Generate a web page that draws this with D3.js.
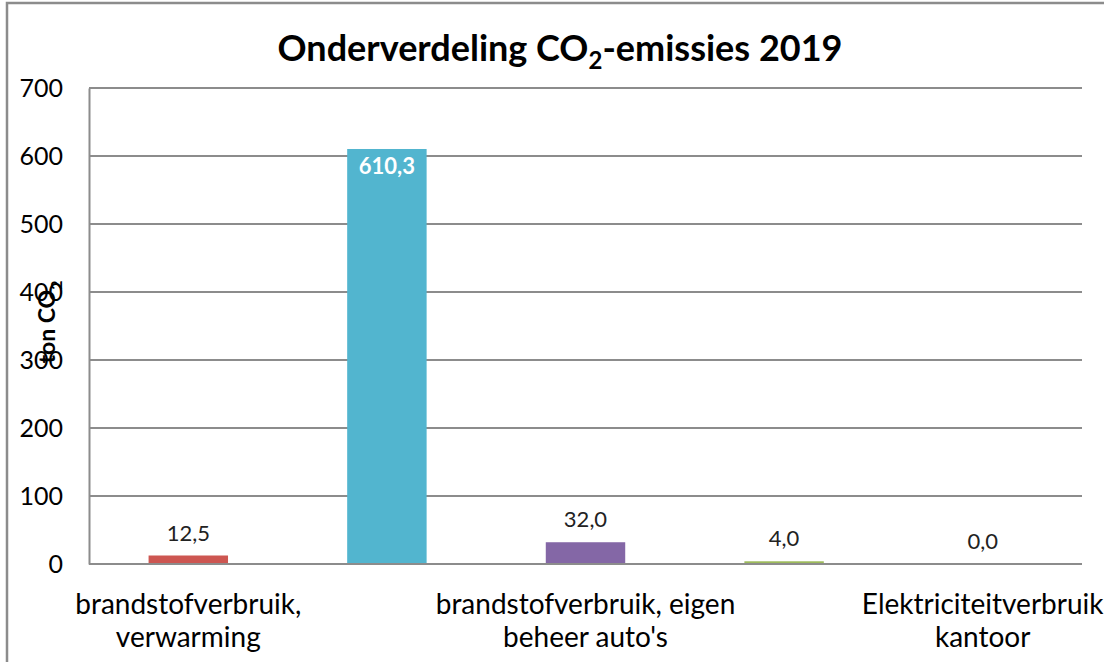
<!DOCTYPE html>
<html>
<head>
<meta charset="utf-8">
<script src="https://cdn.jsdelivr.net/npm/d3@7"></script>
<style>
  body { margin: 0; background: #fff; }
  .canvas svg { display: block; font-family: Lato, "Open Sans", sans-serif; }
</style>
</head>
<body>
<div class="canvas"></div>
<script>
// data
const categories = ["brandstofverbruik, verwarming", "zakelijk verkeer", "brandstofverbruik, eigen beheer auto's", "vliegreizen", "Elektriciteitverbruik kantoor"];
// only every other category label is shown (Excel skipped the rest)
const shownLabels = [["brandstofverbruik,", "verwarming"], [], ["brandstofverbruik, eigen", "beheer auto's"], [], ["Elektriciteitverbruik", "kantoor"]];
const values = [12.5, 610.3, 32.0, 4.0, 0.0];
const colors = ["#cd5651", "#52b5cf", "#8467a6", "#9dbb5c", "#f79646"];
const yTicks = [0, 100, 200, 300, 400, 500, 600, 700];

const W = 1104, H = 662;
const margin = {top: 88, right: 22, bottom: 98, left: 89},
    width = W - margin.left - margin.right,
    height = H - margin.top - margin.bottom;

const root = d3.select(".canvas")
  .append("svg")
    .attr("width", W)
    .attr("height", H);

// outer frame (top + left edge visible)
root.append("path")
    .attr("d", `M7,${H} L7,3 L${W},3`)
    .attr("fill", "none")
    .attr("stroke", "#8c8c8c")
    .attr("stroke-width", 2.5);

// title with subscript
const title = root.append("text")
    .attr("x", 560)
    .attr("y", 61)
    .attr("text-anchor", "middle")
    .style("font-size", "36px")
    .style("font-weight", "bold")
    .attr("fill", "#000");
title.append("tspan").text("Onderverdeling CO");
title.append("tspan").attr("dy", 8).style("font-size", "24px").text("2");
title.append("tspan").attr("dy", -8).text("-emissies 2019");

const svg = root.append("g")
    .attr("transform", `translate(${margin.left},${margin.top})`);

const x = d3.scaleBand()
    .domain(categories)
    .range([0, width])
    .paddingInner(0.6)
    .paddingOuter(0.3);

const y = d3.scaleLinear()
    .domain([0, 700])
    .range([height, 0]);

// gridlines
svg.append("g")
  .selectAll("line")
  .data(yTicks.filter(d => d > 0))
  .join("line")
    .attr("x1", 0)
    .attr("x2", width)
    .attr("y1", d => y(d))
    .attr("y2", d => y(d))
    .attr("stroke", "#8c8c8c")
    .attr("stroke-width", 2);

// y axis
const yAxis = svg.append("g")
    .call(d3.axisLeft(y).tickValues(yTicks).tickSize(0).tickPadding(26).tickFormat(d3.format("d")));
yAxis.select(".domain").attr("stroke", "#8c8c8c").attr("stroke-width", 2);
yAxis.selectAll("text")
    .style("font-size", "25px")
    .style("font-family", "Lato, 'Open Sans', sans-serif")
    .attr("fill", "#000");

// bars
svg.selectAll("rect.bar")
  .data(values)
  .join("rect")
    .attr("class", "bar")
    .attr("x", (d, i) => x(categories[i]))
    .attr("y", d => y(d))
    .attr("width", x.bandwidth())
    .attr("height", d => height - y(d))
    .style("fill", (d, i) => colors[i]);

// x axis line
svg.append("line")
    .attr("x1", 0).attr("x2", width)
    .attr("y1", height).attr("y2", height)
    .attr("stroke", "#8c8c8c")
    .attr("stroke-width", 2);

// category labels
const xl = svg.append("g")
  .selectAll("text")
  .data(categories)
  .join("text")
    .attr("x", d => x(d) + x.bandwidth() / 2)
    .attr("y", height + 50)
    .attr("text-anchor", "middle")
    .style("font-size", "28px")
    .attr("fill", "#000");
xl.each(function(d, i) {
  const t = d3.select(this);
  shownLabels[i].forEach((line, j) => {
    t.append("tspan")
      .attr("x", x(d) + x.bandwidth() / 2)
      .attr("dy", j === 0 ? 0 : 33)
      .text(line);
  });
});

// value labels
const fmt = v => d3.format(".1f")(v).replace(".", ",");
svg.selectAll("text.val")
  .data(values)
  .join("text")
    .attr("class", "val")
    .attr("x", (d, i) => x(categories[i]) + x.bandwidth() / 2)
    .attr("y", d => d > 300 ? y(d) + 25 : y(d) - 15)
    .attr("text-anchor", "middle")
    .style("font-size", "22px")
    .style("font-weight", d => d > 300 ? "bold" : "normal")
    .attr("fill", d => d > 300 ? "#fff" : "#222")
    .text(fmt);

// y axis label (overlaps the ticks, as in the original)
const yl = svg.append("text")
    .attr("transform", "rotate(-90)")
    .attr("x", -height / 2 + 4)
    .attr("y", -margin.left + 55)
    .attr("text-anchor", "middle")
    .style("font-size", "23px")
    .style("font-weight", "bold")
    .attr("fill", "#000");
yl.append("tspan").text("ton CO");
yl.append("tspan").attr("dy", 7).style("font-size", "16px").text("2");
</script>
</body>
</html>
